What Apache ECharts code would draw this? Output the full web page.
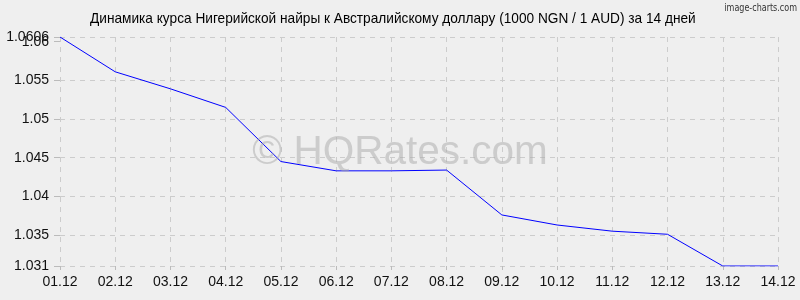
<!DOCTYPE html>
<html><head><meta charset="utf-8">
<script src="https://cdn.jsdelivr.net/npm/echarts@6/dist/echarts.min.js"></script>
<style>html,body{margin:0;padding:0;background:#efefef}#c{width:800px;height:300px}</style>
</head><body><div id="c"></div>
<script>
var titleText = 'Динамика курса Нигерийской найры к Австралийскому доллару (1000 NGN / 1 AUD) за 14 дней';
var categories = ['01.12','02.12','03.12','04.12','05.12','06.12','07.12','08.12','09.12','10.12','11.12','12.12','13.12','14.12'];
var rates = [1.0606,1.0561,1.0539,1.0515,1.0445,1.0433,1.0433,1.0434,1.0376,1.0363,1.0355,1.0351,1.031,1.031];
var yTicks = [1.031,1.035,1.04,1.045,1.05,1.055,1.0606];
var yExtraTicks = [1.06];
var yMin = 1.031, yMax = 1.0606;

var labelStyle = {color:'#111',fontFamily:'Arial',fontSize:14,margin:11,showMinLabel:true,showMaxLabel:true,hideOverlap:false,formatter:function(v){return String(v);}};

var chart = echarts.init(document.getElementById('c'), null, {renderer:'canvas'});
chart.setOption({
  backgroundColor:'#efefef',
  animation:false,
  title:[
    {text:'© HQRates.com',left:'center',top:127,textStyle:{fontFamily:'Arial',fontSize:40.5,fontWeight:'normal',color:'rgba(170,170,170,0.5)'}}
  ],
  graphic:[
    {type:'text',x:90,y:19,scaleX:0.911,style:{text:titleText,fontFamily:'Arial',fontSize:15,fill:'#000',textVerticalAlign:'middle'}},
    {type:'text',x:797,y:8,scaleX:0.85,style:{text:'image-charts.com',fontFamily:'DejaVu Sans Condensed, Arial',fontSize:10.5,fill:'#333',textAlign:'right',textVerticalAlign:'middle'}}
  ],
  grid:{left:60,right:22,top:37,bottom:34,containLabel:false},
  xAxis:{
    type:'category',data:categories,boundaryGap:false,
    axisLine:{show:false},
    axisTick:{show:true,length:4,lineStyle:{color:'#bbb'}},
    axisLabel:{color:'#111',fontFamily:'Arial',fontSize:14,margin:9},
    splitLine:{show:true,lineStyle:{color:'#ccc',type:[5,5]}}
  },
  yAxis:[{
    type:'value',min:yMin,max:yMax,
    axisLine:{show:false},
    axisTick:{show:true,length:6,customValues:yTicks,lineStyle:{color:'#bbb'}},
    axisLabel:Object.assign({customValues:yTicks},labelStyle),
    splitLine:{show:true,lineStyle:{color:'#ccc',type:[5,5]}}
  },{
    type:'value',min:yMin,max:yMax,position:'left',
    axisLine:{show:false},
    axisTick:{show:true,length:6,customValues:yExtraTicks,lineStyle:{color:'#bbb'}},
    axisLabel:Object.assign({customValues:yExtraTicks},labelStyle),
    splitLine:{show:false}
  }],
  series:[{
    type:'line',data:rates,symbol:'none',yAxisIndex:0,
    lineStyle:{color:'#0000ff',width:1}
  }]
});
</script></body></html>
